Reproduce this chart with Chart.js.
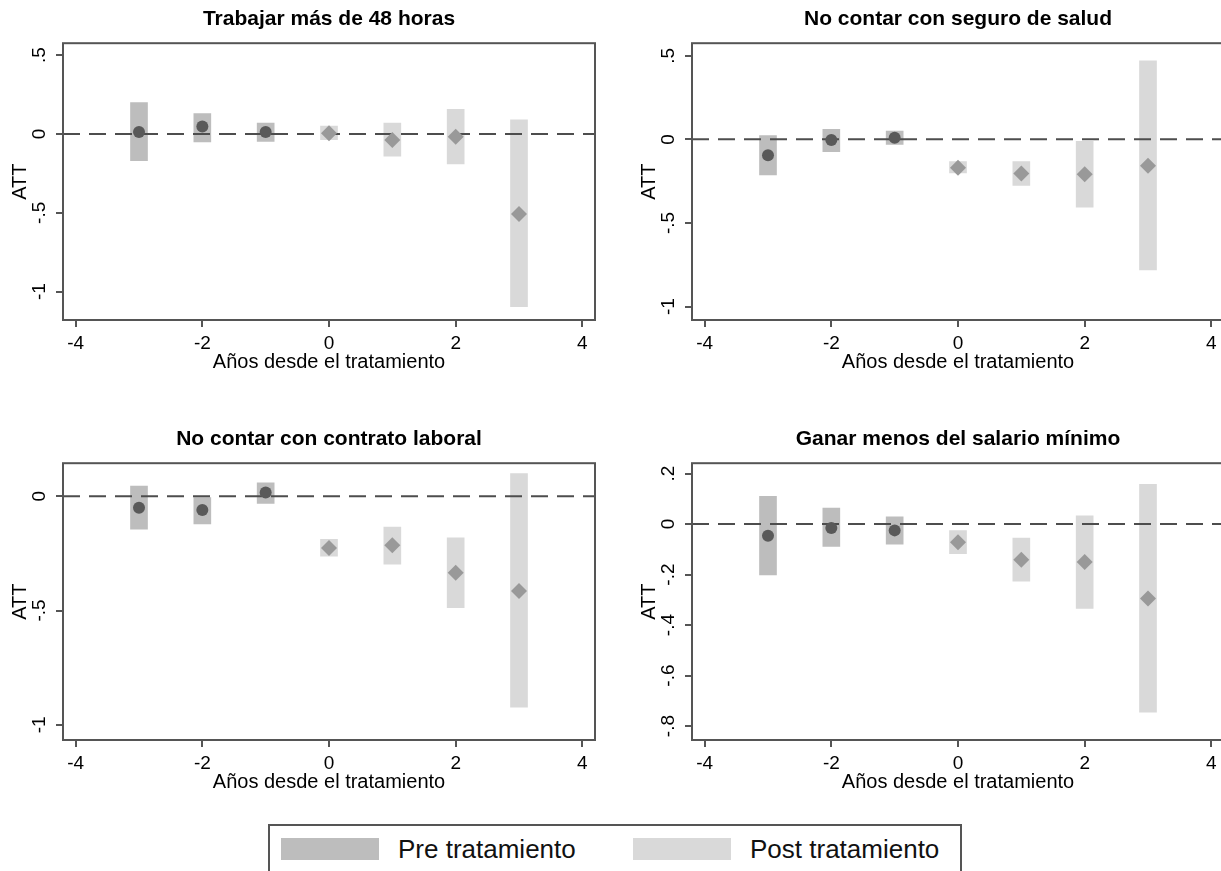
<!DOCTYPE html>
<html>
<head>
<meta charset="utf-8">
<script src="https://cdn.jsdelivr.net/npm/chart.js@4.4.1/dist/chart.umd.min.js"></script>
<style>
  html, body { margin: 0; padding: 0; background: #fff; overflow: hidden; }
  body { width: 1221px; height: 871px; position: relative; font-family: 'Liberation Sans', Arial, sans-serif; }
  .panel { position: absolute; width: 610px; height: 380px; }
  #legend { position: absolute; left: 268px; top: 824px; width: 690px; height: 60px; border: 2px solid #555; background: #fff; }
  #legend .sw { position: absolute; top: 12px; width: 98px; height: 22px; }
  #legend .lab { position: absolute; top: 10px; font-size: 26px; line-height: 26px; color: #111; white-space: nowrap; }
</style>
</head>
<body>
<div class="panel" style="left:0;top:0"><canvas id="c1"></canvas></div>
<div class="panel" style="left:629px;top:0"><canvas id="c2"></canvas></div>
<div class="panel" style="left:0;top:420px"><canvas id="c3"></canvas></div>
<div class="panel" style="left:629px;top:420px"><canvas id="c4"></canvas></div>

<div id="legend">
  <span class="sw" style="left:11px;background:#bdbdbd"></span>
  <span class="lab" style="left:128px">Pre tratamiento</span>
  <span class="sw" style="left:363px;background:#d9d9d9"></span>
  <span class="lab" style="left:480px">Post tratamiento</span>
</div>

<script>
// years relative to treatment, and x axis ticks
const years = [-3, -2, -1, 0, 1, 2, 3];
const xTicks = [-4, -2, 0, 2, 4];

// Trabajar más de 48 horas
const horasAtt  = [0.013, 0.047, 0.013, 0.004, -0.038, -0.017, -0.508];
const horasLow  = [-0.17, -0.05, -0.047, -0.036, -0.14, -0.19, -1.095];
const horasHigh = [0.20, 0.13, 0.07, 0.05, 0.07, 0.157, 0.09];
const horasTicks = [-1, -0.5, 0, 0.5];
const horasTickLabels = ['-1', '-.5', '0', '.5'];

// No contar con seguro de salud
const saludAtt  = [-0.095, -0.004, 0.01, -0.169, -0.204, -0.208, -0.157];
const saludLow  = [-0.212, -0.073, -0.03, -0.2, -0.276, -0.405, -0.78];
const saludHigh = [0.022, 0.06, 0.05, -0.133, -0.133, -0.012, 0.47];
const saludTicks = [-1, -0.5, 0, 0.5];
const saludTickLabels = ['-1', '-.5', '0', '.5'];

// No contar con contrato laboral
const contratoAtt  = [-0.051, -0.061, 0.016, -0.227, -0.215, -0.335, -0.415];
const contratoLow  = [-0.144, -0.121, -0.032, -0.262, -0.297, -0.488, -0.923];
const contratoHigh = [0.044, -0.006, 0.058, -0.189, -0.135, -0.182, 0.099];
const contratoTicks = [-1, -0.5, 0];
const contratoTickLabels = ['-1', '-.5', '0'];

// Ganar menos del salario mínimo
const salarioAtt  = [-0.046, -0.016, -0.025, -0.072, -0.141, -0.15, -0.295];
const salarioLow  = [-0.201, -0.089, -0.08, -0.117, -0.226, -0.334, -0.745];
const salarioHigh = [0.11, 0.063, 0.029, -0.026, -0.055, 0.033, 0.157];
const salarioTicks = [-0.8, -0.6, -0.4, -0.2, 0, 0.2];
const salarioTickLabels = ['-.8', '-.6', '-.4', '-.2', '0', '.2'];

const FONT = "'Liberation Sans', Arial, sans-serif";
const X_MIN = -4.2, X_MAX = 4.2;

// plot region box, like stata
const frame = {
  id: 'frame',
  afterDatasetsDraw(chart) {
    const { ctx, chartArea: a } = chart;
    ctx.save();
    ctx.strokeStyle = '#555';
    ctx.lineWidth = 2;
    ctx.strokeRect(a.left, a.top, a.right - a.left, a.bottom - a.top);
    ctx.restore();
  }
};

function makePanel(id, title, att, low, high, yTicks, yLabels, yMin, yMax) {
  const prePts = [], postPts = [], preCi = [], postCi = [];
  years.forEach((yr, i) => {
    const pt = { x: yr, y: att[i] };
    const ci = { x: yr, y: [low[i], high[i]] };
    if (yr < 0) { prePts.push(pt); preCi.push(ci); }
    else { postPts.push(pt); postCi.push(ci); }
  });

  const grid = { display: true, drawOnChartArea: false, drawTicks: true, tickLength: 7, color: '#555', lineWidth: 2, offset: false };

  new Chart(document.getElementById(id), {
    type: 'bar',
    data: {
      datasets: [
        { type: 'scatter', data: prePts, pointStyle: 'circle', pointRadius: 6, backgroundColor: '#595959', borderWidth: 0, order: 0 },
        { type: 'scatter', data: postPts, pointStyle: 'rectRot', pointRadius: 8, backgroundColor: '#999999', borderWidth: 0, order: 0 },
        { type: 'line', data: [{ x: X_MIN, y: 0 }, { x: X_MAX, y: 0 }], borderColor: '#4d4d4d', borderWidth: 2, borderDash: [17, 9], pointRadius: 0, fill: false, order: 1 },
        { type: 'bar', data: preCi, backgroundColor: '#bdbdbd', barThickness: 17, grouped: false, order: 2 },
        { type: 'bar', data: postCi, backgroundColor: '#d9d9d9', barThickness: 17, grouped: false, order: 2 }
      ]
    },
    options: {
      responsive: true,
      maintainAspectRatio: false,
      animation: false,
      events: [],
      layout: { padding: { left: 0, right: 15, top: 0, bottom: 0 } },
      plugins: {
        legend: { display: false },
        tooltip: { enabled: false },
        title: {
          display: true, text: title, fullSize: false, color: '#000',
          font: { family: FONT, size: 21, weight: 'bold' },
          padding: { top: 7, bottom: 11 }
        }
      },
      scales: {
        x: {
          type: 'linear', min: X_MIN, max: X_MAX, offset: false,
          afterBuildTicks: s => { s.ticks = xTicks.map(v => ({ value: v })); },
          afterFit: s => { s.height = 60; },
          grid: grid,
          border: { display: false },
          ticks: { autoSkip: false, maxRotation: 0, padding: 5, color: '#000', font: { family: FONT, size: 19 }, callback: v => String(v) },
          title: { display: true, text: 'Años desde el tratamiento', color: '#000', font: { family: FONT, size: 20 }, padding: { top: 0, bottom: 6 } }
        },
        y: {
          type: 'linear', min: yMin, max: yMax,
          afterBuildTicks: s => { s.ticks = yTicks.map(v => ({ value: v })); },
          afterFit: s => { s.width = 63; },
          grid: grid,
          border: { display: false },
          ticks: { autoSkip: false, minRotation: 90, maxRotation: 90, crossAlign: 'center', padding: 5, color: '#000', font: { family: FONT, size: 19 }, callback: (v, i) => yLabels[i] },
          title: { display: true, text: 'ATT', color: '#000', font: { family: FONT, size: 20 }, padding: { top: 8, bottom: 0 } }
        }
      }
    },
    plugins: [frame]
  });
}

makePanel('c1', 'Trabajar más de 48 horas', horasAtt, horasLow, horasHigh, horasTicks, horasTickLabels, -1.18, 0.576);
makePanel('c2', 'No contar con seguro de salud', saludAtt, saludLow, saludHigh, saludTicks, saludTickLabels, -1.08, 0.575);
makePanel('c3', 'No contar con contrato laboral', contratoAtt, contratoLow, contratoHigh, contratoTicks, contratoTickLabels, -1.066, 0.144);
makePanel('c4', 'Ganar menos del salario mínimo', salarioAtt, salarioLow, salarioHigh, salarioTicks, salarioTickLabels, -0.855, 0.241);
</script>
</body>
</html>
